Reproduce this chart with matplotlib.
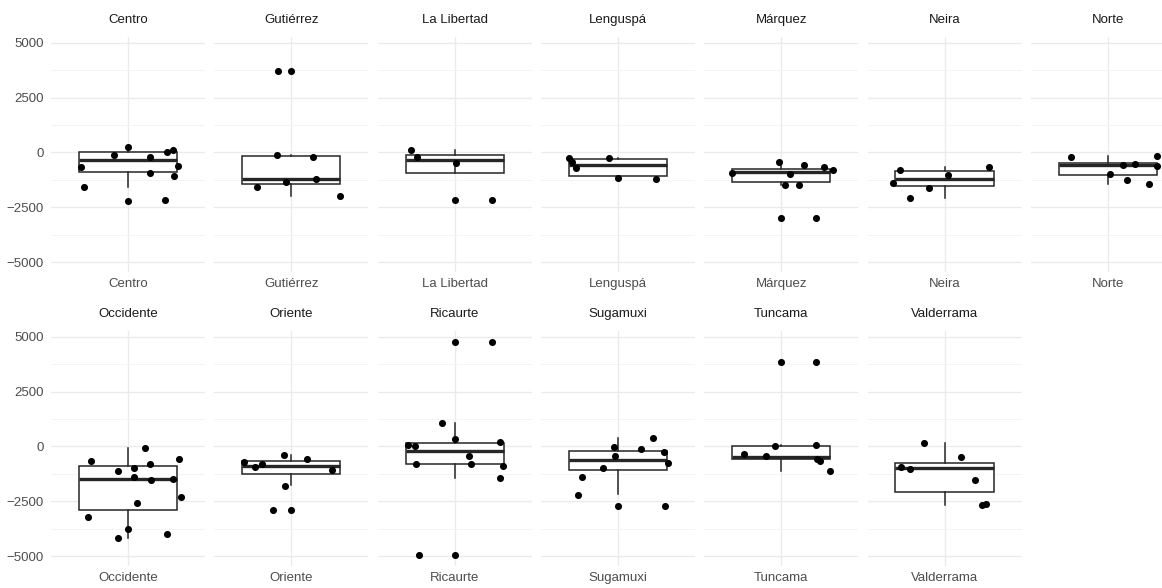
import numpy as np
import matplotlib.pyplot as plt

plt.rcParams['font.family'] = ['Liberation Sans', 'DejaVu Sans']

# provincias (facetas)
regions = ["Centro", "Gutiérrez", "La Libertad", "Lenguspá", "Márquez", "Neira", "Norte",
           "Occidente", "Oriente", "Ricaurte", "Sugamuxi", "Tuncama", "Valderrama"]

# resumen de cada caja
q1 = [-880, -1456, -920, -1060, -1370, -1546, -1034,
      -2900, -1241, -800, -1091, -590, -2075]
med = [-330, -1190, -350, -560, -870, -1197, -580,
       -1482, -870, -190, -605, -480, -990]
q3 = [0, -175, -110, -310, -760, -849, -480,
      -884, -680, 160, -227, 10, -740]
whis_lo = [-1560, -1970, -503, -1220, -1490, -2061, -1420,
           -4164, -1740, -1436, -2170, -1136, -2650]
whis_hi = [230, -120, 124, -275, -458, -687, -165,
           -59, -409, 1064, 382, 45, 155]
outliers = [[-2210], [3710], [-2166], [], [-3005], [], [],
            [], [-2877], [4772, -4954], [-2695], [3863], []]

# puntos individuales (geom_jitter) y su desplazamiento horizontal
points = [
    [230, 110, 40, -105, -200, -610, -655, -960, -1067, -1570, -2190],
    [3710, -120, -229, -1190, -1342, -1570, -1970],
    [124, -197, -503, -2166],
    [-275, -450, -715, -275, -1173, -1220],
    [-458, -563, -655, -792, -916, -962, -1493, -1480, -3005],
    [-792, -687, -1021, -1374, -1603, -2061],
    [-229, -165, -563, -531, -641, -962, -1250, -1420],
    [-59, -650, -573, -786, -1104, -982, -1409, -1527, -1482, -2318, -2591, -3209, -3754, -4164, -3981],
    [-709, -954, -800, -409, -573, -1059, -1786, -2877],
    [4772, 1064, 336, 182, 77, 32, -454, -800, -800, -877, -1436, -4954],
    [382, -27, -118, -273, -423, -755, -982, -1409, -2195, -2695],
    [3863, 32, 45, -332, -454, -573, -682, -1136],
    [155, -500, -954, -1014, -1545, -2650, -2605],
]
jitter = [
    [0.0, 0.35, 0.30, -0.11, 0.17, 0.39, -0.37, 0.17, 0.36, -0.34, 0.29],
    [-0.10, -0.11, 0.17, 0.19, -0.04, -0.27, 0.38],
    [-0.34, -0.29, 0.01, 0.29],
    [-0.38, -0.36, -0.33, -0.07, 0.0, 0.30],
    [-0.02, 0.18, 0.33, 0.40, -0.38, 0.07, 0.03, 0.14, 0.27],
    [-0.35, 0.35, 0.03, -0.40, -0.12, -0.27],
    [-0.29, 0.38, 0.12, 0.21, 0.38, 0.02, 0.15, 0.32],
    [0.13, -0.29, 0.40, 0.17, -0.08, 0.05, 0.05, 0.18, 0.35, 0.41, 0.07, -0.31, 0.0, -0.08, 0.30],
    [-0.37, -0.28, -0.23, -0.06, 0.12, 0.32, -0.05, -0.14],
    [0.29, -0.10, 0.0, 0.35, -0.36, -0.31, 0.11, -0.30, 0.13, 0.38, 0.35, -0.28],
    [0.27, -0.03, 0.18, 0.36, -0.02, 0.39, -0.12, -0.28, -0.31, 0.37],
    [0.27, -0.05, 0.27, -0.29, -0.12, 0.28, 0.30, 0.38],
    [-0.16, 0.13, -0.34, -0.27, 0.24, 0.29, 0.32],
]

W, H = 1162, 588
fig = plt.figure(figsize=(W / 100, H / 100), dpi=100)

panel_w, panel_h = 154, 235
row_tops = [37, 331]
line_col = '#262626'

for i, name in enumerate(regions):
    row, col = divmod(i, 7)
    cx = 128 + 163.3 * col
    left = cx - panel_w / 2
    top = row_tops[row]
    ax = fig.add_axes([left / W, 1 - (top + panel_h) / H, panel_w / W, panel_h / H])

    stats = [dict(med=med[i], q1=q1[i], q3=q3[i], whislo=whis_lo[i],
                  whishi=whis_hi[i], fliers=outliers[i])]
    ax.bxp(stats, positions=[0], widths=0.764, showcaps=False, patch_artist=True,
           boxprops=dict(facecolor='white', edgecolor=line_col, linewidth=1.1),
           medianprops=dict(color=line_col, linewidth=2.4),
           whiskerprops=dict(color=line_col, linewidth=1.1),
           flierprops=dict(marker='o', markerfacecolor='black', markeredgewidth=0,
                           markersize=5.1))
    ax.scatter(jitter[i], points[i], s=26, color='black', zorder=4, linewidths=0)

    ax.set_xlim(-0.6, 0.6)
    ax.set_ylim(-5450, 5260)
    ax.set_yticks([-5000, -2500, 0, 2500, 5000])
    ax.set_yticks([-3750, -1250, 1250, 3750], minor=True)
    ax.set_xticks([0])
    ax.set_xticklabels([name])
    ax.grid(True, which='major', color='#ebebeb', linewidth=1.0)
    ax.grid(True, which='minor', axis='y', color='#f3f3f3', linewidth=0.6)
    ax.set_axisbelow(True)
    for s in ax.spines.values():
        s.set_visible(False)
    ax.tick_params(axis='both', which='both', length=0)
    ax.tick_params(axis='x', pad=4, labelsize=9.5, labelcolor='#4d4d4d')
    ax.tick_params(axis='y', pad=5, labelsize=9.5, labelcolor='#4d4d4d')
    if col != 0:
        ax.set_yticklabels([])
    ax.set_title(name, fontsize=9.5, color='#1a1a1a', pad=10)

fig.savefig('out.png', dpi=100)
